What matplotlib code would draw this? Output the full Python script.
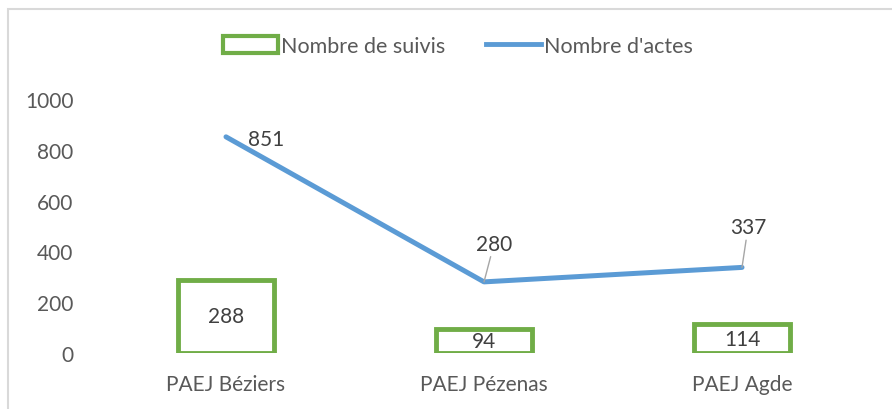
import matplotlib.pyplot as plt
from matplotlib.lines import Line2D
from matplotlib.patches import Patch, Rectangle

plt.rcParams['font.family'] = ['Lato', 'DejaVu Sans']

sites = ["PAEJ Béziers", "PAEJ Pézenas", "PAEJ Agde"]
suivis = [288, 94, 114]
actes = [851, 280, 337]
yticks = [0, 200, 400, 600, 800, 1000]

green = '#70AD47'
blue = '#5B9BD5'
label_col = '#404040'
tick_col = '#595959'

fig = plt.figure(figsize=(8.92, 4.10), dpi=100)
ax = fig.add_axes([97 / 892, 1 - 354 / 410, 774 / 892, 254 / 410])

# chart frame (cut off at right and bottom like the source)
fig.patches.append(Rectangle((8 / 892, -0.1), 1.1, 1 - 10 / 410 + 0.1,
                             transform=fig.transFigure, fill=False,
                             edgecolor='#D9D9D9', linewidth=1.5))

x = list(range(len(sites)))
bars = ax.bar(x, suivis, width=0.37, facecolor='white', edgecolor=green,
              linewidth=3.5, zorder=2)
ax.bar_label(bars, labels=[str(v) for v in suivis], label_type='center',
             fontsize=15, color=label_col)

ax.plot(x, actes, color=blue, linewidth=3.6, solid_capstyle='round', zorder=3)

offsets = [(40, -2), (10, 38), (6, 40)]
for i, v in enumerate(actes):
    dx, dy = offsets[i]
    if i == 0:
        ax.annotate(str(v), (i, v), xytext=(dx, dy), textcoords='offset pixels',
                    ha='center', va='center', fontsize=15, color=label_col)
    else:
        ax.annotate(str(v), (i, v), xytext=(dx, dy), textcoords='offset pixels',
                    ha='center', va='center', fontsize=15, color=label_col,
                    arrowprops=dict(arrowstyle='-', color='#A6A6A6', lw=1,
                                    shrinkA=0, shrinkB=0))

ax.set_xlim(-0.5, len(sites) - 0.5)
ax.set_ylim(0, 1000)
ax.set_yticks(yticks)
ax.set_xticks(x)
ax.set_xticklabels(sites)
ax.tick_params(axis='both', length=0, labelsize=15, labelcolor=tick_col)
ax.tick_params(axis='x', pad=15)
ax.tick_params(axis='y', pad=17)
for s in ax.spines.values():
    s.set_visible(False)

handles = [Patch(facecolor='white', edgecolor=green, linewidth=3),
           Line2D([0], [0], color=blue, linewidth=3.5)]
fig.legend(handles, ["Nombre de suivis", "Nombre d'actes"], loc='center',
           bbox_to_anchor=(0.5 + 12 / 892, 1 - 47 / 410), ncol=2, frameon=False,
           fontsize=15.5, labelcolor=tick_col, handlelength=2.55,
           handleheight=0.8, handletextpad=0.15, columnspacing=1.9)

fig.savefig('out.png', dpi=100)
